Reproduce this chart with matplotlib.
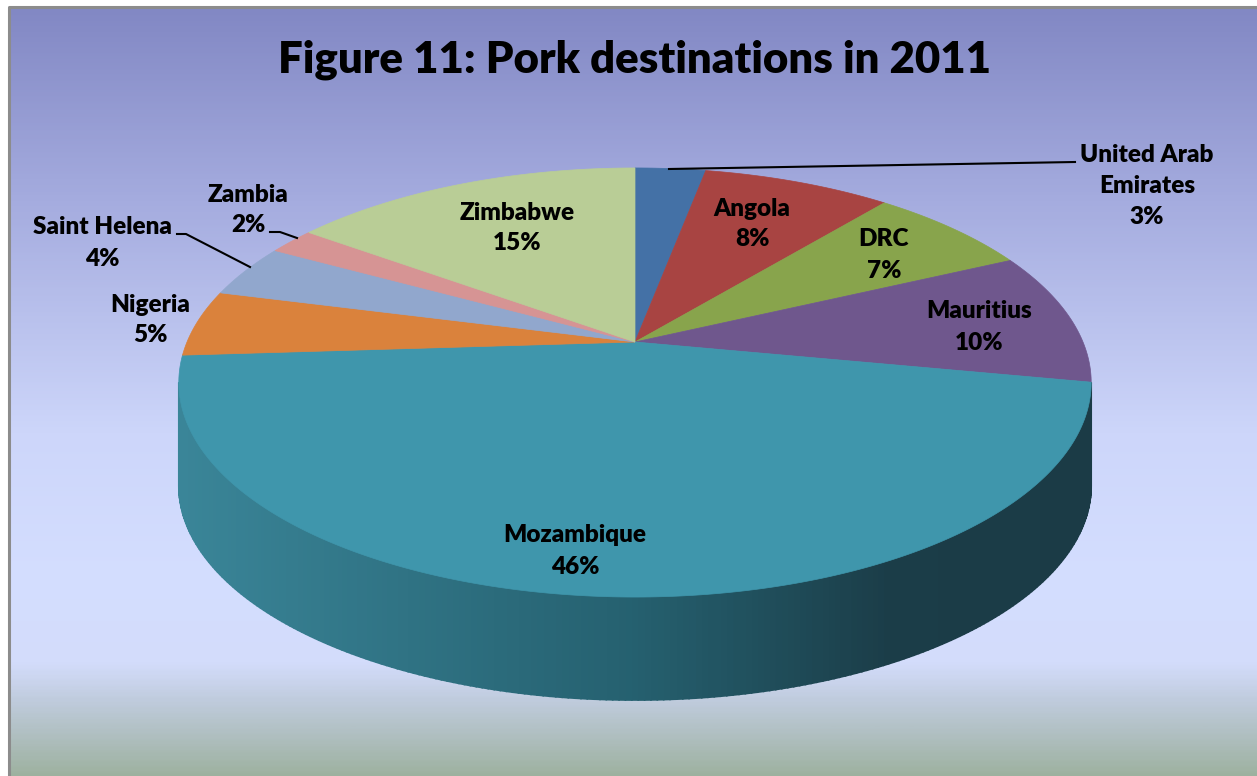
import numpy as np
import matplotlib.pyplot as plt
from matplotlib.patches import Polygon
from matplotlib.colors import LinearSegmentedColormap

plt.rcParams['font.family'] = ['Lato', 'DejaVu Sans']

# data, in the order Excel draws them (clockwise from 12 o'clock)
countries = ['United Arab\nEmirates', 'Angola', 'DRC', 'Mauritius', 'Mozambique',
             'Nigeria', 'Saint Helena', 'Zambia', 'Zimbabwe']
shares = [3, 8, 7, 10, 46, 5, 4, 2, 15]
colors = ['#4471A6', '#A84442', '#88A44C', '#6F578D', '#3F96AC',
          '#DA823C', '#91A7CD', '#D69494', '#B9CD96']

W, H = 1257, 776
fig = plt.figure(figsize=(W / 100, H / 100), dpi=100)
ax = fig.add_axes([0, 0, 1, 1])
ax.set_xlim(0, W)
ax.set_ylim(H, 0)
ax.axis('off')

# background gradient of the chart area
bg = LinearSegmentedColormap.from_list('bg', [
    (0.0, '#8288C4'), (0.25, '#A5ACDF'), (0.55, '#CDD6FA'), (0.74, '#D4DEFF'),
    (0.85, '#D3DCFB'), (0.90, '#BFCBDC'), (1.0, '#9CB09D')])
grad = np.linspace(0, 1, 400).reshape(-1, 1)
ax.imshow(grad, cmap=bg, aspect='auto', extent=[9, W + 5, H + 5, 7], zorder=0)
ax.plot([9, 9, W + 5], [H + 5, 7, 7], color='#8C8C8C', lw=2.2, zorder=1)

# perspective ellipse
cx, cy = 635, 342
k, S, R, T = 0.1888, 206.9, 448, 103


def proj(theta, z=0.0):
    u = np.sin(theta)
    v = -np.cos(theta)
    d = 1 - k * v
    return cx + R * u / d, cy + S * v / d + z * T


# side wall (only the front arc is visible), lit from the left
side = LinearSegmentedColormap.from_list('side', [
    (0.0, '#3A8598'), (0.5, '#25606F'), (0.78, '#1B3D48'), (1.0, '#1B3B46')])
a0, a1 = np.radians(100.9), np.radians(259.1)
ts = np.linspace(a0, a1, 240)
for i in range(len(ts) - 1):
    t = np.array([ts[i], ts[i + 1]])
    xt, yt = proj(t)
    xb, yb = proj(t, 1)
    pts = [(xt[0], yt[0]), (xt[1], yt[1]), (xb[1], yb[1]), (xb[0], yb[0])]
    f = ((xt[0] + xt[1]) / 2 - 180) / (1092 - 180)
    c = side(np.clip(f, 0, 1))
    ax.add_patch(Polygon(pts, closed=True, facecolor=c, edgecolor=c, lw=1.2, zorder=2))

# top face slices
total = sum(shares)
start = 0.0
for val, col in zip(shares, colors):
    end = start + val / total * 2 * np.pi
    t = np.linspace(start, end, max(int(val * 6), 8))
    xs, ys = proj(t)
    pts = [(cx, cy)] + list(zip(xs, ys))
    ax.add_patch(Polygon(pts, closed=True, facecolor=col, edgecolor=col, lw=0.5, zorder=3))
    start = end

# labels
lab_pos = [(1147, 186), (752, 224), (884, 255), (979, 327), (575, 551),
           (150, 320), (102, 243), (248, 210), (517, 228)]
for name, val, (lx, ly) in zip(countries, shares, lab_pos):
    ax.text(lx, ly, f'{name}\n{val}%', ha='center', va='center', fontsize=17.5,
            fontweight='heavy', linespacing=1.5, zorder=5)

# leader lines
ax.plot([669, 1075], [169, 162], color='black', lw=1.5, zorder=4)
ax.plot([177, 186, 250], [234, 234, 267], color='black', lw=1.5, zorder=4)
ax.plot([270, 280, 297], [232, 232, 238], color='black', lw=1.5, zorder=4)

ax.text(635, 60, 'Figure 11: Pork destinations in 2011', ha='center', va='center',
        fontsize=31.5, fontweight='heavy', zorder=5)

fig.savefig('out.png', dpi=100)
